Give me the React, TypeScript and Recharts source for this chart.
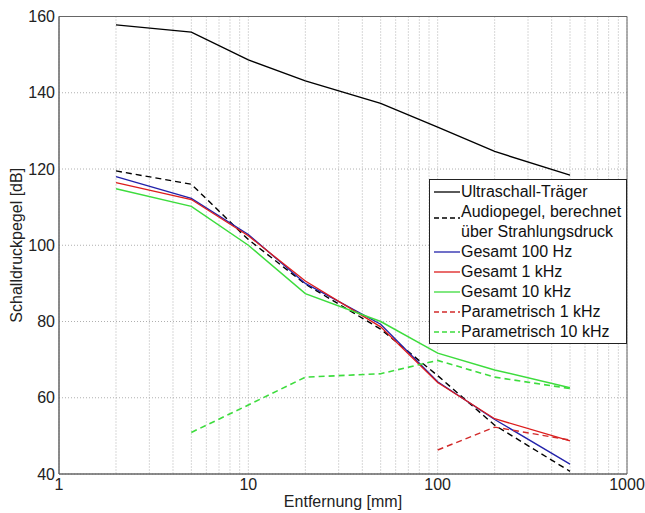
import React from 'react';
import { LineChart, Line, XAxis, YAxis, CartesianGrid, ReferenceArea, Legend } from 'recharts';

const distances = [2, 5, 10, 20, 50, 100, 200, 500];
const ultraschall = [157.8, 155.9, 148.6, 143.1, 137.2, 131.0, 124.6, 118.4];
const audiopegel = [119.5, 116.0, 101.5, 89.8, 78.0, 65.8, 52.8, 40.7];
const gesamt100 = [118.0, 112.3, 102.8, 90.0, 79.3, 64.2, 54.3, 42.6];
const gesamt1k = [116.4, 112.0, 102.5, 90.6, 78.6, 64.0, 54.5, 48.7];
const gesamt10k = [114.8, 110.2, 100.0, 87.3, 80.0, 71.7, 67.3, 62.6];
const param1k = [null, null, null, null, null, 46.3, 52.3, 48.9];
const param10k = [null, 50.9, 58.1, 65.4, 66.3, 69.8, 65.4, 62.4];

const xTicks = [1, 2, 3, 4, 5, 6, 7, 8, 9, 10, 20, 30, 40, 50, 60, 70, 80, 90, 100, 200, 300, 400, 500, 600, 700, 800, 900, 1000];
const xLabels = [1, 10, 100, 1000];
const yTicks = [40, 60, 80, 100, 120, 140, 160];

const FONT = '"Liberation Sans", Arial, Helvetica, sans-serif';
const FS = 16;

type Series = { key: string; lines: string[]; color: string; dash?: string; width: number; values: (number | null)[] };

const series: Series[] = [
  { key: 'ultraschall', lines: ['Ultraschall-Träger'], color: '#000000', width: 1.4, values: ultraschall },
  { key: 'audiopegel', lines: ['Audiopegel, berechnet', 'über Strahlungsdruck'], color: '#000000', dash: '6 4', width: 1.4, values: audiopegel },
  { key: 'gesamt100', lines: ['Gesamt 100 Hz'], color: '#2222aa', width: 1.3, values: gesamt100 },
  { key: 'gesamt1k', lines: ['Gesamt 1 kHz'], color: '#dd1c1c', width: 1.3, values: gesamt1k },
  { key: 'gesamt10k', lines: ['Gesamt 10 kHz'], color: '#3ddc3d', width: 1.5, values: gesamt10k },
  { key: 'param1k', lines: ['Parametrisch 1 kHz'], color: '#d22a2a', dash: '6 4', width: 1.4, values: param1k },
  { key: 'param10k', lines: ['Parametrisch 10 kHz'], color: '#3ddc3d', dash: '6 4', width: 1.6, values: param10k },
];

const data = distances.map((d, i) => {
  const row: Record<string, number | null> = { x: d };
  series.forEach((s) => {
    row[s.key] = s.values[i];
  });
  return row;
});

const renderLegend = () => (
  <div
    style={{
      border: '1px solid #222',
      background: '#fff',
      padding: '2px 2px 1px 3px',
      fontFamily: FONT,
      fontSize: FS,
      color: '#111',
      lineHeight: '20px',
      boxSizing: 'border-box',
      width: 198,
      overflow: 'hidden',
    }}
  >
    {series.map((s) => {
      const h = s.lines.length * 20;
      const sy = s.lines.length > 1 ? 16 : 10;
      return (
        <div key={s.key} style={{ display: 'flex', alignItems: 'flex-start', height: h }}>
          <svg width={28} height={h} style={{ display: 'block', flex: '0 0 28px' }}>
            <line x1={1} x2={27} y1={sy} y2={sy} stroke={s.color} strokeWidth={1.3} strokeDasharray={s.dash ? '5 3' : undefined} />
          </svg>
          <div style={{ whiteSpace: 'nowrap' }}>
            {s.lines.map((l) => (
              <div key={l}>{l}</div>
            ))}
          </div>
        </div>
      );
    })}
  </div>
);

export default function App() {
  return (
    <div style={{ position: 'absolute', left: 0, top: 0, width: 645, height: 513, background: '#fff' }}>
      <LineChart width={645} height={513} data={data} margin={{ top: 16.5, right: 18, bottom: 14, left: 0 }}>
        <CartesianGrid stroke="#b0b0b0" strokeDasharray="1 2" />
        <XAxis
          dataKey="x"
          type="number"
          scale="log"
          domain={[1, 1000]}
          ticks={xTicks}
          allowDataOverflow
          interval={0}
          height={25}
          tickLine={false}
          tickSize={0}
          tickMargin={5}
          axisLine={{ stroke: '#666' }}
          tick={{ fill: '#222', fontSize: FS, fontFamily: FONT }}
          tickFormatter={(v: number) => (xLabels.includes(v) ? String(v) : '')}
          label={{ value: 'Entfernung [mm]', position: 'insideBottom', offset: -8, fill: '#222', fontSize: FS, fontFamily: FONT }}
        />
        <YAxis
          type="number"
          domain={[40, 160]}
          ticks={yTicks}
          interval={0}
          width={59}
          tickLine={false}
          tickSize={0}
          tickMargin={4}
          axisLine={{ stroke: '#666' }}
          tick={{ fill: '#222', fontSize: FS, fontFamily: FONT }}
          label={{ value: 'Schalldruckpegel [dB]', angle: -90, position: 'insideLeft', offset: 16, fill: '#222', fontSize: FS, fontFamily: FONT, style: { textAnchor: 'middle' } }}
        />
        <ReferenceArea x1={1} x2={1000} y1={40} y2={160} fill="none" stroke="#666" strokeWidth={1} ifOverflow="visible" />
        {series.map((s) => (
          <Line
            key={s.key}
            dataKey={s.key}
            name={s.lines.join(' ')}
            stroke={s.color}
            strokeWidth={s.width}
            strokeDasharray={s.dash}
            dot={false}
            activeDot={false}
            isAnimationActive={false}
            connectNulls={false}
            type="linear"
          />
        ))}
        <Legend
          layout="horizontal"
          verticalAlign="middle"
          align="center"
          content={renderLegend}
          wrapperStyle={{ position: 'absolute', left: 429, top: 179, width: 198, height: 164 }}
        />
      </LineChart>
    </div>
  );
}
